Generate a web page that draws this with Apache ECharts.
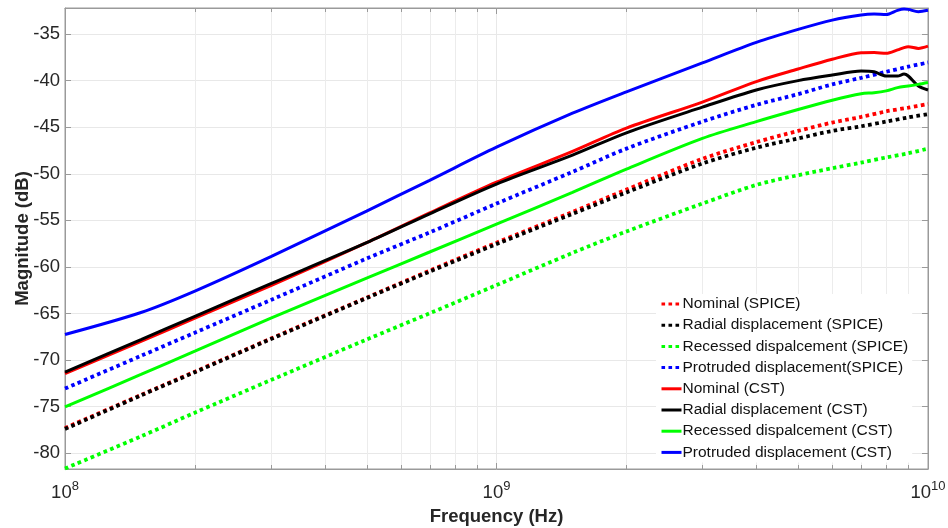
<!DOCTYPE html>
<html><head><meta charset="utf-8">
<script src="https://cdn.jsdelivr.net/npm/echarts@6/dist/echarts.min.js"></script>
<style>html,body{margin:0;padding:0;background:#fff}#c{width:948px;height:528px}</style>
</head><body><div id="c"></div>
<script>
// Frequencies (Hz)
const freqSpice = [1e8,1.5e8,2e8,3e8,5e8,7e8,1e9,1.5e9,2e9,3e9,4e9,5e9,6e9,7e9,8e9,9e9,1e10];
const freqCst   = [1e8,1.5e8,2e8,3e8,5e8,7e8,1e9,1.5e9,2e9,3e9,4e9,5e9,6e9,7e9,7.5e9,8e9,8.5e9,8.8e9,9e9,9.5e9,1e10];

// SPICE magnitudes (dB)
const nominalSpice   = [-77.3,-73.75,-71.25,-67.7,-63.3,-60.4,-57.4,-54.1,-51.7,-48.4,-46.6,-45.4,-44.5,-43.9,-43.3,-42.9,-42.5];
const radialSpice    = [-77.4,-73.8,-71.3,-67.75,-63.35,-60.5,-57.55,-54.3,-52.0,-48.9,-47.2,-46.2,-45.4,-44.9,-44.4,-43.95,-43.6];
const recessedSpice  = [-81.65,-78.2,-75.65,-72.15,-67.8,-64.98,-61.95,-58.5,-56.2,-53.2,-51.2,-50.15,-49.4,-48.8,-48.25,-47.8,-47.3];
const protrudedSpice = [-73.06,-69.55,-67.06,-63.55,-59.1,-56.3,-53.2,-49.8,-47.3,-44.4,-42.6,-41.45,-40.4,-39.7,-39.05,-38.5,-38.05];

// CST magnitudes (dB)
const nominalCst   = [-71.45,-68.0,-65.5,-62.0,-57.4,-54.2,-50.9,-47.6,-45.1,-42.3,-40.1,-38.75,-37.7,-37.0,-36.97,-37.07,-36.7,-36.45,-36.36,-36.54,-36.3];
const radialCst    = [-71.3,-67.8,-65.3,-61.8,-57.4,-54.3,-51.1,-48.0,-45.6,-42.85,-41.0,-40.0,-39.4,-38.97,-39.05,-39.5,-39.5,-39.3,-39.5,-40.58,-41.0];
const recessedCst  = [-75.03,-71.55,-69.05,-65.5,-61.2,-58.4,-55.4,-52.0,-49.5,-46.2,-44.4,-43.1,-42.1,-41.4,-41.3,-41.1,-40.75,-40.62,-40.58,-40.4,-40.2];
const protrudedCst = [-67.26,-64.9,-62.6,-58.9,-54.0,-50.7,-47.15,-43.5,-41.2,-38.1,-35.9,-34.5,-33.5,-32.95,-32.85,-32.9,-32.45,-32.3,-32.35,-32.6,-32.45];

const legendNames = ['Nominal (SPICE)','Radial displacement (SPICE)','Recessed dispalcement (SPICE)','Protruded displacement(SPICE)','Nominal (CST)','Radial displacement (CST)','Recessed dispalcement (CST)','Protruded displacement (CST)'];
const minorFreqs = [2e8,3e8,4e8,5e8,6e8,7e8,8e8,9e8,2e9,3e9,4e9,5e9,6e9,7e9,8e9,9e9];

const xMin = 1e8, xMax = 1e10, yMin = -81.7, yMax = -32.2;

function pairs(fs, vs){ return fs.map((f,i)=>[f, vs[i]]); }

const FONT = "'Liberation Sans', Arial, Helvetica, sans-serif";
const dotted = (name, color, fs, vs) => ({
  name, type:'line', data: pairs(fs, vs), showSymbol:false, symbol:'none', smooth:0.3, z:3,
  lineStyle:{color, width:3.8, type:[3.6,3.4], cap:'butt'}, itemStyle:{color}
});
const solid = (name, color, fs, vs) => ({
  name, type:'line', data: pairs(fs, vs), showSymbol:false, symbol:'none', smooth:0.3, z:4,
  lineStyle:{color, width:3, type:'solid'}, itemStyle:{color}
});

const chart = echarts.init(document.getElementById('c'), null, {renderer:'canvas'});
chart.setOption({
  animation:false,
  backgroundColor:'#fff',
  textStyle:{fontFamily:FONT},
  grid:{left:65, right:20, top:8, bottom:59, outerBoundsMode:'none', containLabel:false,
        show:true, borderColor:'#9a9a9a', borderWidth:1, backgroundColor:'transparent'},
  legend:{
    data: legendNames, orient:'vertical', left:656, top:294,
    itemWidth:20, itemHeight:14, itemGap:5.2,
    backgroundColor:'#fff', padding:[2,4,2,4],
    itemStyle:{opacity:0},
    lineStyle:{width:3},
    textStyle:{fontSize:15.5, color:'#111', fontFamily:FONT, padding:[0,0,0,-4]},
    selectedMode:false
  },
  xAxis:[{
    type:'log', logBase:10, min:xMin, max:xMax,
    name:'Frequency (Hz)', nameLocation:'middle', nameGap:38, nameMoveOverlap:false,
    nameTextStyle:{fontSize:18.5, fontWeight:'bold', color:'#262626', fontFamily:FONT},
    axisLine:{show:true, lineStyle:{color:'#9a9a9a'}},
    axisTick:{show:true, inside:true, length:6, lineStyle:{color:'#9a9a9a'}},
    splitLine:{show:true, lineStyle:{color:'#e8e8e8', width:1}},
    axisLabel:{
      margin:11, color:'#262626',
      formatter: v => '{b|10}{s|' + Math.round(Math.log10(v)) + '}',
      rich:{ b:{fontSize:18.5, color:'#262626', fontFamily:FONT}, s:{fontSize:13, color:'#262626', fontFamily:FONT, padding:[0,0,12,0]} }
    }
  },{
    type:'log', logBase:10, min:xMin, max:xMax, position:'top',
    axisLine:{show:true, lineStyle:{color:'#9a9a9a'}},
    axisTick:{show:true, inside:true, length:6, lineStyle:{color:'#9a9a9a'}},
    axisLabel:{show:false}, splitLine:{show:false}
  }],
  yAxis:[{
    type:'value', min:yMin, max:yMax, splitNumber:10,
    name:'Magnitude (dB)', nameLocation:'middle', nameGap:33, nameRotate:90, nameMoveOverlap:false,
    nameTextStyle:{fontSize:18.5, fontWeight:'bold', color:'#262626', fontFamily:FONT},
    axisLine:{show:true, lineStyle:{color:'#9a9a9a'}},
    axisTick:{show:true, inside:true, length:6, lineStyle:{color:'#9a9a9a'}},
    splitLine:{show:true, lineStyle:{color:'#e8e8e8', width:1}},
    axisLabel:{fontSize:18.5, color:'#262626', margin:5, showMinLabel:false, showMaxLabel:false,
      formatter: v => (Math.abs(v/5 - Math.round(v/5)) < 1e-6 ? String(v) : '')}
  },{
    type:'value', min:yMin, max:yMax, splitNumber:10, position:'right',
    axisLine:{show:true, lineStyle:{color:'#9a9a9a'}},
    axisTick:{show:true, inside:true, length:6, lineStyle:{color:'#9a9a9a'}},
    axisLabel:{show:false}, splitLine:{show:false}
  }],
  series:[
    {
      name:'minor', type:'custom', z:1, silent:true, xAxisIndex:0, yAxisIndex:0,
      data: minorFreqs.map(f => [f, yMin]),
      renderItem:(params, api) => {
        const cs = params.coordSys;
        const x = Math.round(api.coord([api.value(0), yMin])[0]) + 0.5;
        return {type:'group', children:[
          {type:'line', shape:{x1:x, y1:cs.y, x2:x, y2:cs.y+cs.height}, style:{stroke:'#ececec', lineWidth:1}},
          {type:'line', shape:{x1:x, y1:cs.y+cs.height, x2:x, y2:cs.y+cs.height-4}, style:{stroke:'#9a9a9a', lineWidth:1}},
          {type:'line', shape:{x1:x, y1:cs.y, x2:x, y2:cs.y+4}, style:{stroke:'#9a9a9a', lineWidth:1}}
        ]};
      }
    },
    dotted(legendNames[0], '#ff0000', freqSpice, nominalSpice),
    dotted(legendNames[1], '#000000', freqSpice, radialSpice),
    dotted(legendNames[2], '#00ff00', freqSpice, recessedSpice),
    dotted(legendNames[3], '#0000ff', freqSpice, protrudedSpice),
    solid(legendNames[4], '#ff0000', freqCst, nominalCst),
    solid(legendNames[5], '#000000', freqCst, radialCst),
    solid(legendNames[6], '#00ff00', freqCst, recessedCst),
    solid(legendNames[7], '#0000ff', freqCst, protrudedCst)
  ]
});
</script></body></html>
